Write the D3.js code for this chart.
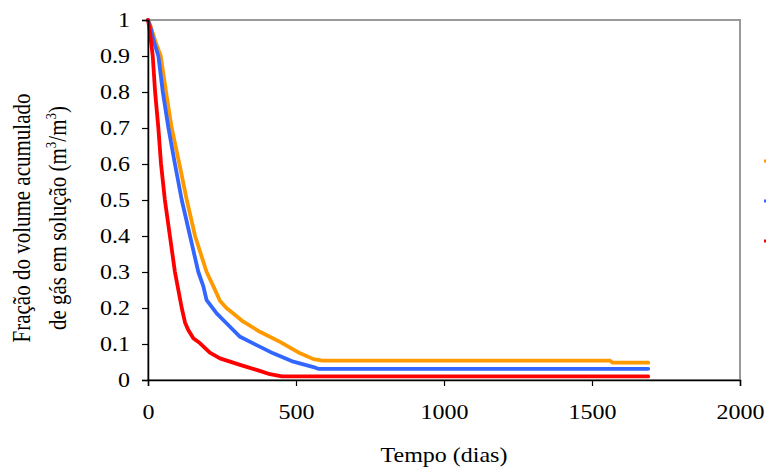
<!DOCTYPE html>
<html><head><meta charset="utf-8">
<script src="https://cdn.jsdelivr.net/npm/d3@7"></script>
<style>body{margin:0;background:#fff}svg{display:block}
svg text{font-family:'Liberation Serif',serif !important;fill:#000}</style>
</head><body><svg id="c" width="766" height="467"></svg>
<script>
const xTicks = [0, 500, 1000, 1500, 2000];
const yTicks = [0, 0.1, 0.2, 0.3, 0.4, 0.5, 0.6, 0.7, 0.8, 0.9, 1];
const seriesColors = ["#FF9900", "#3366FF", "#FF0000"];
// [day, fraction]
const orange = [[0,1],[10,0.98],[25,0.94],[43,0.9],[61,0.8],[80,0.7],[106,0.6],[131,0.5],[159,0.4],[198,0.3],[221,0.26],[243,0.22],[265,0.2],[288,0.185],[322,0.162],[378,0.134],[446,0.106],[514,0.074],[559,0.058],[590,0.054],[1560,0.054],[1570,0.048],[1690,0.048]];
const blue = [[0,1],[8,0.98],[20,0.94],[35,0.9],[50,0.8],[69,0.7],[91,0.6],[114,0.5],[142,0.4],[170,0.3],[187,0.26],[198,0.222],[232,0.185],[266,0.157],[311,0.12],[367,0.097],[423,0.074],[491,0.051],[559,0.036],[575,0.031],[1690,0.031]];
const red = [[0,1],[6,0.97],[16,0.9],[24,0.8],[35,0.7],[44,0.6],[57,0.5],[74,0.4],[91,0.3],[114,0.2],[125,0.16],[136,0.139],[153,0.116],[176,0.102],[209,0.076],[243,0.06],[311,0.042],[367,0.028],[412,0.016],[452,0.01],[1690,0.01]];
const series = [orange, blue, red];

const SX = 1.2; // horizontal stretch of the reference text
const svg = d3.select("#c");
const L = 148, R = 740, T = 20, B = 380;
const x = d3.scaleLinear().domain([0, 2000]).range([L, R]);
const y = d3.scaleLinear().domain([0, 1]).range([B, T]);

svg.append("rect").attr("x", L).attr("y", T).attr("width", R - L).attr("height", B - T)
  .attr("fill", "none").attr("stroke", "#9a9a9a").attr("stroke-width", 2);

const line = d3.line().x(d => x(d[0])).y(d => y(d[1]));
series.forEach((s, i) => {
  svg.append("path").datum(s).attr("d", line).attr("fill", "none")
    .attr("stroke", seriesColors[i]).attr("stroke-width", 3.8)
    .attr("stroke-linejoin", "round").attr("stroke-linecap", "round");
});

const ax = svg.append("g").attr("transform", `translate(0,${B})`)
  .call(d3.axisBottom(x).tickValues(xTicks).tickSize(6).tickFormat(d3.format("d")));
const ay = svg.append("g").attr("transform", `translate(${L},0)`)
  .call(d3.axisLeft(y).tickValues(yTicks).tickSize(6).tickFormat(d => d === 0 || d === 1 ? d3.format("d")(d) : d3.format(".1f")(d)));
[ax, ay].forEach(g => {
  g.attr("font-family", null).attr("font-size", 20);
  g.select(".domain").attr("stroke", "#000").attr("stroke-width", 1.5);
  g.selectAll(".tick line").attr("stroke", "#000").attr("stroke-width", 1.2);
});
ax.selectAll(".tick text").attr("x", null).attr("y", null).attr("dy", null)
  .attr("transform", `translate(0,39) scale(${SX},1)`);
ay.selectAll(".tick text").attr("x", null).attr("dy", "0.33em")
  .attr("transform", `translate(-18,0) scale(${SX},1)`);

svg.append("text").attr("transform", `translate(444,462) scale(${SX},1)`).attr("text-anchor", "middle")
  .attr("font-size", 20).text("Tempo (dias)");

const yt = svg.append("text").attr("transform", `translate(0,218) scale(${SX},1) rotate(-90)`)
  .attr("text-anchor", "middle").attr("font-size", 21);
yt.append("tspan").attr("x", 0).attr("y", 25).text("Fração do volume acumulado");
const t2 = yt.append("tspan").attr("x", 0).attr("y", 55);
t2.append("tspan").text("de gás em solução (m");
t2.append("tspan").attr("dy", -8).attr("font-size", 13).text("3");
t2.append("tspan").attr("dy", 8).text("/m");
t2.append("tspan").attr("dy", -8).attr("font-size", 13).text("3");
t2.append("tspan").attr("dy", 8).text(")");

[161, 201, 241].forEach((ly, i) => {
  svg.append("line").attr("x1", 764).attr("x2", 800).attr("y1", ly).attr("y2", ly)
    .attr("stroke", seriesColors[i]).attr("stroke-width", 3);
});
</script></body></html>
